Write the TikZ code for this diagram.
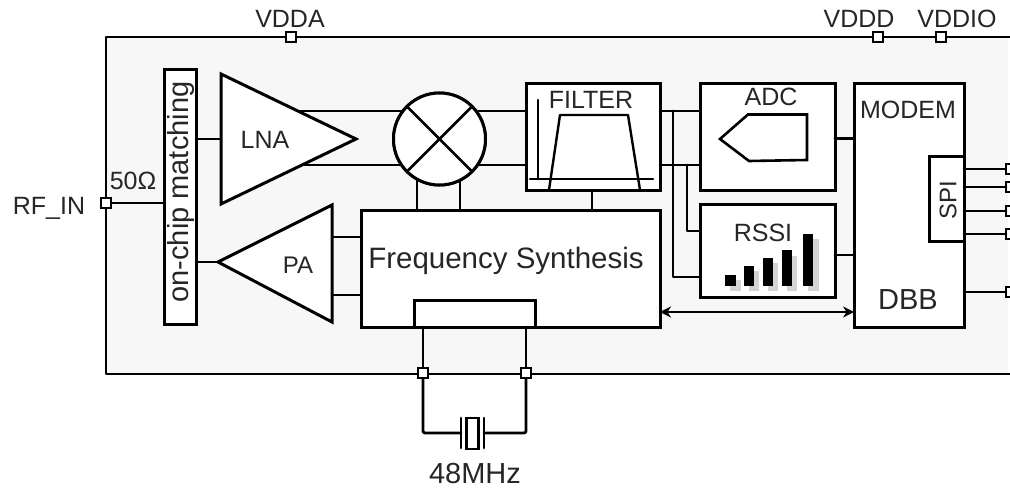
\documentclass[tikz,border=0pt]{standalone}
\usepackage{fontspec}
\setmainfont{Liberation Sans}
\usetikzlibrary{arrows.meta}
\definecolor{ink}{HTML}{000000}
\definecolor{txt}{HTML}{262626}
\definecolor{chip}{HTML}{F7F7F7}
\definecolor{shade}{HTML}{D4D4D4}
\newcommand{\fs}[1]{\fontsize{#1}{#1}\selectfont}
\tikzset{
  wire/.style={draw=ink,line width=2.8pt,line cap=round,line join=round},
  blockbox/.style={draw=ink,fill=white,line width=3pt,rectangle,inner sep=0pt,outer sep=0pt},
  pinbox/.style={draw=ink,fill=white,line width=2.6pt,rectangle,inner sep=0pt,outer sep=0pt,minimum size=10pt},
  lbl/.style={text=txt,inner sep=0pt,outer sep=0pt},
  bar/.style={fill=ink,draw=none},
  barshade/.style={fill=shade,draw=none}
}
\begin{document}
\begin{tikzpicture}[x=1pt,y=-1pt]
\useasboundingbox (0,0) rectangle (1010,489);
\clip (0,0) rectangle (1010,489);
% chip
\fill[chip] (106,37) rectangle (1008,374);
\coordinate (chipTL) at (106,37);
\coordinate (chipTR) at (1012,37);
\coordinate (chipBL) at (106,374);
\coordinate (chipBR) at (1012,374);
\draw[wire] (chipTR) -- (chipTL) -- (chipBL) -- (chipBR);

% blocks
\node[blockbox,minimum width=31.5pt,minimum height=254pt] (match) at (180.3,197) {};
\node[blockbox,minimum width=134pt,minimum height=107pt] (filter) at (593,137.5) {};
\node[blockbox,minimum width=135pt,minimum height=107pt] (adc) at (767.5,137.5) {};
\node[blockbox,minimum width=135pt,minimum height=93pt] (rssi) at (767.5,251.5) {};
\node[blockbox,minimum width=299pt,minimum height=116pt] (synth) at (510.5,269) {};
\node[blockbox,minimum width=121pt,minimum height=26pt] (xtalif) at (474.5,314) {};
\node[blockbox,minimum width=110pt,minimum height=243pt] (modem) at (909,205.5) {};
\node[blockbox,minimum width=35pt,minimum height=85pt] (spi) at (946.5,199.5) {};
\node[blockbox,circle,minimum size=92pt] (mixer) at (439.5,139) {};

% amplifier corner points
\coordinate (lnaT) at (221,74);
\coordinate (lnaB) at (221,204);
\coordinate (lnaTip) at (356,139);
\coordinate (paT) at (332,205);
\coordinate (paB) at (332,322);
\coordinate (paTip) at (218,262);

% pins
\node[pinbox] (pinA) at (291,37) {};
\node[pinbox] (pinD) at (878,37) {};
\node[pinbox] (pinIO) at (941,37) {};
\node[pinbox] (pinRF) at (106,203) {};
\node[pinbox] (pinX1) at (423,373) {};
\node[pinbox] (pinX2) at (526,373) {};
\node[pinbox] (pinS1) at (1011,169) {};
\node[pinbox] (pinS2) at (1011,187) {};
\node[pinbox] (pinS3) at (1011,211) {};
\node[pinbox] (pinS4) at (1011,234) {};
\node[pinbox] (pinS5) at (1011,292) {};

% connectors behind shapes
\draw[wire] (pinRF) -- (match.west |- pinRF);
\draw[wire] (296,111) -- (mixer.center |- 0,111);
\draw[wire] (304,165) -- (mixer.center |- 0,165);
\draw[wire] (mixer.center |- 0,111) -- (filter.west |- 0,111);
\draw[wire] (mixer.center |- 0,165) -- (filter.west |- 0,165);
\draw[wire] (417,139) -- (417,211);
\draw[wire] (460,139) -- (460,211);
\draw[wire] (filter.east |- 0,111) -- (adc.west |- 0,111);
\draw[wire] (filter.east |- 0,165) -- (adc.west |- 0,165);
\draw[wire] (673,111) -- (673,277) -- (rssi.west |- 0,277);
\draw[wire] (687,165) -- (687,231) -- (rssi.west |- 0,231);
\draw[wire] (592,191) -- (592,211);
\draw[wire] (adc.east |- 0,138.5) -- (modem.west |- 0,138.5);
\draw[wire] (rssi.east |- 0,255) -- (modem.west |- 0,255);
\draw[wire] (match.east |- lnaTip) -- (lnaT |- lnaTip);
\draw[wire] (match.east |- paTip) -- (paTip);
\draw[wire] (paT |- 0,237) -- (synth.west |- 0,237);
\draw[wire] (paT |- 0,295) -- (synth.west |- 0,295);
\draw[wire,{Stealth[length=11pt,width=11pt]}-{Stealth[length=11pt,width=11pt]}] (synth.east |- 0,312) -- (modem.west |- 0,312);
\draw[wire] (modem.east |- pinS1) -- (pinS1);
\draw[wire] (modem.east |- pinS2) -- (pinS2);
\draw[wire] (modem.east |- pinS3) -- (pinS3);
\draw[wire] (modem.east |- pinS4) -- (pinS4);
\draw[wire] (modem.east |- pinS5) -- (pinS5);

% redraw shapes over connectors
\node[blockbox,circle,minimum size=92pt] (mixerTop) at (mixer) {};
\draw[wire] (mixer.45) -- (mixer.225);
\draw[wire] (mixer.135) -- (mixer.315);
\path[blockbox,draw=ink,line join=miter] (lnaT) -- (lnaTip) -- (lnaB) -- cycle;
\path[blockbox,draw=ink,line join=miter] (paT) -- (paTip) -- (paB) -- cycle;
\node[pinbox] (pinRFtop) at (pinRF) {};
\node[pinbox] (pinS1top) at (pinS1) {};

% crystal
\coordinate (xtalL) at (423,433);
\coordinate (xtalR) at (526,433);
\coordinate (plateL) at (461,433);
\coordinate (plateR) at (484,433);
\draw[wire] (xtalif.south -| pinX1) -- (pinX1);
\draw[wire] (xtalif.south -| pinX2) -- (pinX2);
\draw[wire,rounded corners=2pt] (pinX1) -- (xtalL) -- (plateL);
\draw[wire,rounded corners=2pt] (pinX2) -- (xtalR) -- (plateR);
\node[pinbox] (pinX1top) at (pinX1) {};
\node[pinbox] (pinX2top) at (pinX2) {};
\draw[wire] (461,418) -- (461,448);
\draw[wire] (484,418) -- (484,448);
\node[blockbox,line width=2.6pt,minimum width=12pt,minimum height=31pt] (crystal) at (472.5,433.5) {};

% filter symbol
\draw[wire,line width=2.4pt] (538,100) -- (538,179);
\draw[wire,line width=2.4pt] (530,179) -- (653,179);
\draw[wire,line width=2.4pt] (549,190) -- (560,115) -- (628,115) -- (640,190);

% ADC symbol
\draw[wire,line width=2.6pt,line join=miter] (720,139) -- (748,114.5) -- (807,114.5) -- (807,160) -- (749,161) -- cycle;

% RSSI bars
\fill[barshade] (730,280) rectangle (741,291);
\fill[barshade] (749,271) rectangle (759,291);
\fill[barshade] (768,263) rectangle (778,291);
\fill[barshade] (787,256) rectangle (797,291);
\fill[barshade] (808,239) rectangle (819,291);
\fill[bar] (725,275) rectangle (736,286);
\fill[bar] (744,266) rectangle (754,286);
\fill[bar] (763,258) rectangle (773,286);
\fill[bar] (782,250) rectangle (792,286);
\fill[bar] (803,234) rectangle (813,286);

% labels
\node[lbl] (tVDDA) at (290,19) {\fs{25}VDDA};
\node[lbl] (tVDDD) at (859,19) {\fs{25}VDDD};
\node[lbl] (tVDDIO) at (957,19) {\fs{25}VDDIO};
\node[lbl] (tRF) at (49,208) {\fs{25}RF\_IN};
\node[lbl] (t50) at (133,181) {\fs{25}50Ω};
\node[lbl,rotate=90] (tMatch) at (181.5,192) {\fs{29}on-chip matching};
\node[lbl] (tLNA) at (265,140) {\fs{25}LNA};
\node[lbl] (tPA) at (298,265) {\fs{24}PA};
\node[lbl] (tFreq) at (506,261) {\fs{29.5}Frequency Synthesis};
\node[lbl] (tFilter) at (591,100) {\fs{25}FILTER};
\node[lbl] (tADC) at (771,97) {\fs{25}ADC};
\node[lbl] (tRSSI) at (763,233) {\fs{25}RSSI};
\node[lbl] (tModem) at (908,110) {\fs{25}MODEM};
\node[lbl] (tDBB) at (908,300) {\fs{29}DBB};
\node[lbl,rotate=90] (tSPI) at (948,200) {\fs{24}SPI};
\node[lbl] (tXtal) at (475,474) {\fs{29}48MHz};
\end{tikzpicture}
\end{document}
